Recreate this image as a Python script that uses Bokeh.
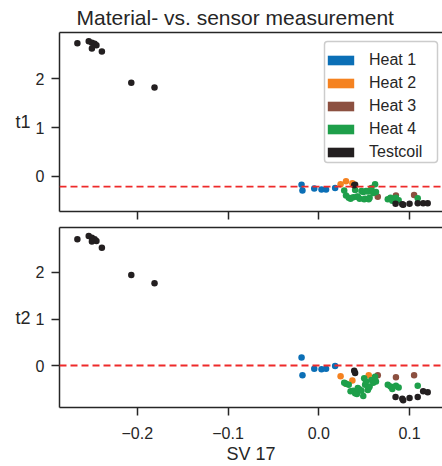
from bokeh.plotting import figure
from bokeh.layouts import column
from bokeh.models import Range1d, FixedTicker, LinearAxis, Span, Legend, LegendItem, BoxAnnotation
from bokeh.embed import file_html
from bokeh.resources import INLINE

title_text = "Material- vs. sensor measurement"
x_label = "SV 17"
y_labels = ["t1", "t2"]
groups = ["Heat 1", "Heat 2", "Heat 3", "Heat 4", "Testcoil"]
colors = ["#0b6fb6", "#f58220", "#8c5040", "#1e9f4a", "#231f20"]

heat1_sv = [-0.019, -0.018, -0.005, 0.003, 0.008, 0.018]
heat1_t1 = [-0.17, -0.29, -0.25, -0.27, -0.27, -0.24]
heat1_t2 = [0.18, -0.20, -0.06, -0.07, -0.06, 0.00]

heat2_sv = [0.024, 0.030, 0.037, 0.055]
heat2_t1 = [-0.16, -0.10, -0.14, -0.30]
heat2_t2 = [-0.22, -0.38, -0.31, -0.20]

heat3_sv = [0.065, 0.085, 0.105]
heat3_t1 = [-0.42, -0.39, -0.38]
heat3_t2 = [-0.20, -0.24, -0.20]

heat4_sv = [0.028, 0.030, 0.033, 0.035, 0.038, 0.040, 0.042, 0.043, 0.045, 0.047,
            0.049, 0.050, 0.051, 0.052, 0.054, 0.055, 0.056, 0.058, 0.060, 0.062,
            0.063, 0.076, 0.079, 0.081, 0.085, 0.088, 0.109]
heat4_t1 = [-0.29, -0.39, -0.44, -0.46, -0.43, -0.28, -0.42, -0.41, -0.46, -0.30,
            -0.32, -0.47, -0.46, -0.30, -0.31, -0.47, -0.44, -0.24, -0.34, -0.16,
            -0.32, -0.47, -0.44, -0.50, -0.44, -0.49, -0.45]
heat4_t2 = [-0.36, -0.38, -0.40, -0.54, -0.53, -0.58, -0.60, -0.47, -0.50, -0.53,
            -0.64, -0.26, -0.40, -0.33, -0.51, -0.47, -0.44, -0.30, -0.36, -0.23,
            -0.33, -0.40, -0.44, -0.49, -0.42, -0.46, -0.42]

testcoil_sv = [-0.266, -0.2535, -0.250, -0.247, -0.245, -0.250, -0.239, -0.2066, -0.181,
               0.039, 0.040, 0.0846, 0.092, 0.093, 0.100, 0.109, 0.115, 0.120]
testcoil_t1 = [2.73, 2.77, 2.74, 2.72, 2.69, 2.62, 2.56, 1.92, 1.82,
               -0.18, -0.17, -0.56, -0.57, -0.58, -0.56, -0.55, -0.55, -0.55]
testcoil_t2 = [2.70, 2.77, 2.73, 2.70, 2.66, 2.65, 2.52, 1.94, 1.76,
               -0.10, -0.15, -0.66, -0.70, -0.73, -0.68, -0.66, -0.54, -0.56]

t1_threshold = -0.21
t2_threshold = 0.01

x_ticks = [-0.2, -0.1, 0.0, 0.1]
x_tick_labels = ["\u22120.2", "\u22120.1", "0.0", "0.1"]
y_ticks = [0, 1, 2]

sv_all = [heat1_sv, heat2_sv, heat3_sv, heat4_sv, testcoil_sv]
t1_all = [heat1_t1, heat2_t1, heat3_t1, heat4_t1, testcoil_t1]
t2_all = [heat1_t2, heat2_t2, heat3_t2, heat4_t2, testcoil_t2]

FONT = "Liberation Sans"
INK = "#262626"

x_range = Range1d(-0.2857, 0.1363)


def style(p, ylabel, show_xlabels):
    p.xgrid.visible = False
    p.ygrid.visible = False
    p.outline_line_color = None
    p.background_fill_color = "white"
    p.border_fill_color = "white"
    ya = p.left[0]
    ya.ticker = FixedTicker(ticks=y_ticks)
    ya.major_tick_out = 8
    ya.major_tick_in = 0
    ya.minor_tick_out = 0
    ya.minor_tick_in = 0
    ya.major_tick_line_color = INK
    ya.major_tick_line_width = 1.5
    ya.axis_line_color = INK
    ya.axis_line_width = 1.5
    ya.major_label_text_font = FONT
    ya.major_label_text_font_size = "16px"
    ya.major_label_text_color = INK
    ya.major_label_standoff = 7
    ya.axis_label = ylabel
    ya.axis_label_orientation = "horizontal"
    ya.axis_label_text_font = FONT
    ya.axis_label_text_font_size = "18px"
    ya.axis_label_text_font_style = "normal"
    ya.axis_label_text_color = INK
    ya.axis_label_standoff = 2
    xa = p.below[0]
    xa.ticker = FixedTicker(ticks=x_ticks)
    xa.major_tick_out = 8
    xa.major_tick_in = 0
    xa.minor_tick_out = 0
    xa.minor_tick_in = 0
    xa.major_tick_line_color = INK
    xa.major_tick_line_width = 1.5
    xa.axis_line_color = INK
    xa.axis_line_width = 1.5
    if show_xlabels:
        xa.major_label_overrides = {t: l for t, l in zip(x_ticks, x_tick_labels)}
        xa.major_label_text_font = FONT
        xa.major_label_text_font_size = "16px"
        xa.major_label_text_color = INK
        xa.major_label_standoff = 11
        xa.axis_label = x_label
        xa.axis_label_text_font = FONT
        xa.axis_label_text_font_size = "18px"
        xa.axis_label_text_font_style = "normal"
        xa.axis_label_text_color = INK
        xa.axis_label_standoff = 2
    else:
        xa.major_label_overrides = {t: "" for t in x_ticks}
        xa.major_label_standoff = 0
    top = LinearAxis(ticker=FixedTicker(ticks=[]), major_tick_out=0, major_tick_in=0,
                     minor_tick_out=0, minor_tick_in=0, major_label_standoff=0,
                     axis_line_color=INK, axis_line_width=1.5)
    p.add_layout(top, "above")


p1 = figure(frame_width=383, frame_height=179, x_range=x_range, y_range=Range1d(-0.72, 2.95),
            output_backend="svg", toolbar_location=None,
            min_border_left=59, min_border_right=0, min_border_top=0, min_border_bottom=12)
p1.title.text = title_text
p1.title.align = "left"
p1.title.offset = 17
p1.title.text_font = FONT
p1.title.text_font_size = "21px"
p1.title.text_font_style = "normal"
p1.title.text_color = INK
p1.title.standoff = 7
style(p1, y_labels[0], False)

p2 = figure(frame_width=383, frame_height=180, x_range=x_range, y_range=Range1d(-0.885, 2.95),
            output_backend="svg", toolbar_location=None,
            min_border_left=59, min_border_right=0, min_border_top=4, min_border_bottom=58)
style(p2, y_labels[1], True)

items = []
for name, c, sv, a, b in zip(groups, colors, sv_all, t1_all, t2_all):
    p1.scatter(sv, a, size=6.5, fill_color=c, line_color=None)
    p2.scatter(sv, b, size=6.5, fill_color=c, line_color=None)
    # zero-area quads at the group's own points: invisible in the plot,
    # they only give the legend its rectangular colour patch
    q = p1.quad(left=sv, right=sv, top=a, bottom=a, fill_color=c, line_color=None)
    items.append(LegendItem(label=name, renderers=[q]))

for p, thr in ((p1, t1_threshold), (p2, t2_threshold)):
    p.add_layout(Span(location=thr, dimension="width", line_color="#ee2a2a",
                      line_width=1.8, line_dash="7 4"))

# legend frame (light grey, rounded), in pixels from the plot frame's bottom-left
legend_frame = BoxAnnotation(left=265, right=378, bottom=49, top=170,
                             left_units="screen", right_units="screen",
                             bottom_units="screen", top_units="screen",
                             fill_color="white", fill_alpha=0.85,
                             line_color="#cccccc", line_width=1.5, line_alpha=1.0,
                             border_radius=3)
p1.add_layout(legend_frame)

leg = Legend(items=items, location=(265, 49), glyph_width=33, glyph_height=12,
             label_height=20, spacing=3, padding=7, label_standoff=12,
             label_text_font=FONT, label_text_font_size="16px", label_text_color=INK,
             border_line_color=None, background_fill_alpha=0.0)
p1.add_layout(leg)

layout = column(p1, p2, spacing=0)
open("out.html", "w").write(file_html(layout, INLINE))
